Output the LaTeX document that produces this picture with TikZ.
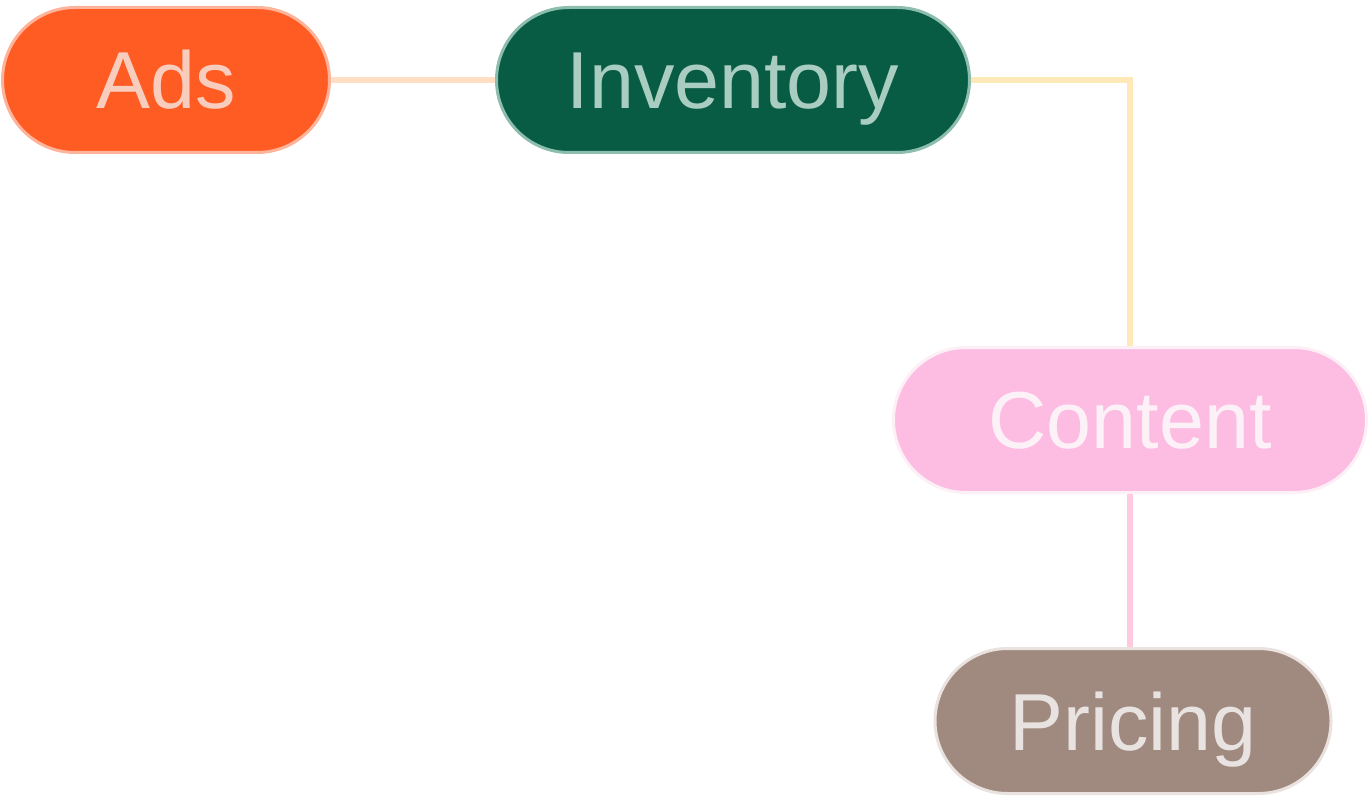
\documentclass[tikz,border=0pt]{standalone}
\usepackage{fontspec}
\setmainfont{Liberation Sans}
\usetikzlibrary{positioning}

\definecolor{adsfill}{HTML}{FF5C23}
\definecolor{adsline}{HTML}{FDB49A}
\definecolor{adstext}{HTML}{F9CDBE}
\definecolor{invfill}{HTML}{085C44}
\definecolor{invline}{HTML}{8DBDAD}
\definecolor{invtext}{HTML}{A9CDC1}
\definecolor{confill}{HTML}{FDBDE2}
\definecolor{conline}{HTML}{FCEFF6}
\definecolor{context}{HTML}{FDF1F8}
\definecolor{prifill}{HTML}{A08A7F}
\definecolor{priline}{HTML}{EAE2DE}
\definecolor{pritext}{HTML}{E8E3E1}
\definecolor{linkyellow}{HTML}{FFE9B8}
\definecolor{linkpink}{HTML}{FFC9DF}

\tikzset{
  pill/.style={rectangle, rounded corners=1.45cm, minimum height=2.9cm,
    line width=0.06cm, inner sep=0pt, text height=33pt, text depth=0pt,
    font=\fontsize{46}{52}\selectfont},
  link/.style={line width=0.11cm}
}

\begin{document}
\begin{tikzpicture}
\useasboundingbox (0,0) rectangle (27.36,15.92);

\node (ads) at (3.32,14.32) [pill, minimum width=6.54cm, fill=adsfill, draw=adsline, text=adstext] {Ads};
\node (inventory) at (14.66,14.32) [pill, minimum width=9.46cm, fill=invfill, draw=invline, text=invtext] {Inventory};
\node (content) at (22.6,7.52) [pill, minimum width=9.46cm, fill=confill, draw=conline, text=context] {Content};
\node (pricing) at (22.66,1.5) [pill, minimum width=7.92cm, fill=prifill, draw=priline, text=pritext] {Pricing};

% links
\draw [link, linkyellow!70!linkpink] (ads) -- (inventory);
\draw [link, linkyellow] (inventory.east) -| (content.north);
\draw [link, linkpink] (content.south) -- (content.south |- pricing.north);
\end{tikzpicture}
\end{document}
